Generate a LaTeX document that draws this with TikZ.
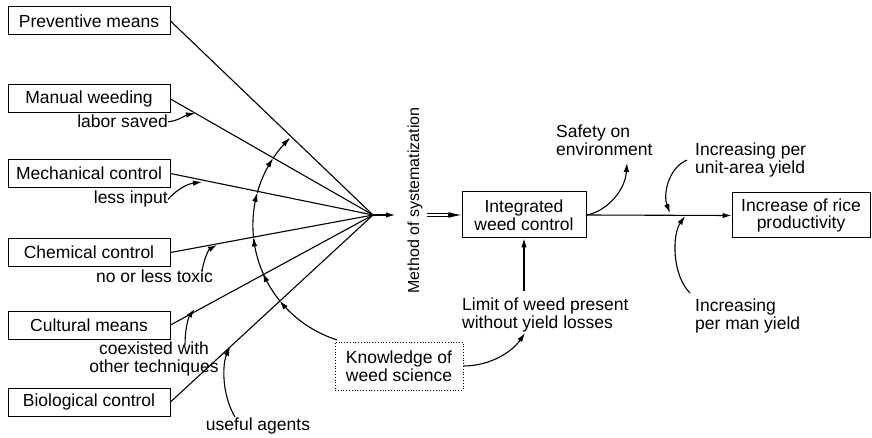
\documentclass[tikz,border=0pt]{standalone}
\usepackage{fontspec}
\setmainfont{Liberation Sans}
\usetikzlibrary{arrows.meta,calc}
\begin{document}
\begin{tikzpicture}[x=1pt,y=-1pt,
  every node/.style={font=\fontsize{17.5}{17.5}\selectfont, inner sep=0pt},
  srcbox/.style={draw, line width=1pt, minimum width=162pt, minimum height=28pt},
  conn/.style={line width=1.1pt},
  tip/.style={-{Latex[length=9pt,width=5.5pt]}}]
\useasboundingbox (0,0) rectangle (872,438);
% left boxes
\node[srcbox] (prev) at (89,21) {Preventive means};
\node[srcbox] (man) at (89,99) {Manual weeding};
\node[srcbox] (mech) at (89,173.5) {Mechanical control};
\node[srcbox] (chem) at (89,252.5) {Chemical control};
\node[srcbox] (cult) at (89,325) {Cultural means};
\node[srcbox] (bio) at (89,402) {Biological control};
% labels
\node[anchor=base east] (lab1) at (168,128) {labor saved};
\node[anchor=base east] (lab2) at (168,204) {less input};
\node[anchor=base east] (lab3) at (213,282) {no or less toxic};
\node[anchor=north, align=center] (lab4) at (154,342) {coexisted with\\other techniques};
\node[anchor=base] (lab5) at (258,430) {useful agents};
% middle and right
\node[rotate=90, font=\fontsize{16}{16}\selectfont] (meth) at (415,200.5) {Method of systematization};
\node[draw, line width=1pt, minimum width=124pt, minimum height=46pt, align=center] (int) at (524,215) {Integrated\\weed control};
\node[draw, line width=1pt, minimum width=138pt, minimum height=45pt, align=center] (inc) at (801,215.5) {Increase of rice\\productivity};
\node[draw, dotted, line width=0.8pt, minimum width=128pt, minimum height=48pt, align=center] (know) at (399,366) {Knowledge of\\weed science};
\node[anchor=north west, align=left] (safe) at (556,125) {Safety on\\environment};
\node[anchor=north west, align=left] (unit) at (695,143) {Increasing per\\unit-area yield};
\node[anchor=north west, align=left] (perman) at (695,299) {Increasing\\per man yield};
\node[anchor=north west, align=left] (limit) at (462,298) {Limit of weed present\\without yield losses};
% convergence
\coordinate (V) at (373,215);
\foreach \n in {prev,man,mech,chem,cult,bio} \draw[conn] (\n.east) -- (V);
\coordinate (Vend) at (395,215);
\draw[conn,tip] (V) -- (Vend);
% double arrow
\coordinate (dstart) at (427,215);
\draw[double, double distance=2.4pt, line width=0.6pt] (dstart) -- ($(int.west)+(-12,0)$);
\draw[conn,-{Latex[length=13pt,width=6pt]}] ($(int.west)+(-14,0)$) -- (int.west);
% main arrows
\draw[conn,tip] (int.east) -- (inc.west);
\draw[conn,tip] ($(int.south |- limit.north)+(0,-7)$) -- (int.south);
% small label arrows
\coordinate (a1) at (195,113.2);
\draw[conn,tip] (lab1.east) .. controls (178,121) and (186,115) .. (a1);
\coordinate (a2) at (202,182);
\draw[conn,tip] (lab2.east) .. controls (174,192) and (186,184) .. (a2);
\coordinate (a3) at (217,245);
\draw[conn,tip] ($(lab3.north east)+(-11,3)$) .. controls (203,262) and (208,250) .. (a3);
\coordinate (a4) at (194.5,309);
\draw[conn,tip] ($(lab4.north)+(31,3)$) .. controls (185,330) and (188,318) .. (a4);
\coordinate (a5) at (230,346.7);
\draw[conn,tip] ($(lab5.north)+(-23,0)$) .. controls (222,395) and (222,365) .. (a5);
% right arrows
\coordinate (s1) at (627,163);
\draw[conn,tip] (int.east) .. controls (605,212) and (625,192) .. (s1);
\coordinate (u1) at (670,213);
\draw[conn,tip] ($(unit.west)+(-8,0)$) .. controls (668,168) and (663,195) .. (u1);
\coordinate (m1) at (685,216);
\draw[conn,tip] ($(perman.north west)+(-5,-6)$) .. controls (672,275) and (672,235) .. (m1);
\coordinate (l1) at (525,333);
\draw[conn,tip] (know.east) .. controls (490,366) and (512,352) .. (l1);
% arc from knowledge
\foreach \a/\b in {107.6/141.0,141.0/156.5,156.5/174.1,174.1/195.5,195.5/213.6,213.6/226.2}
  \draw[conn,tip] plot[domain=\a:\b, samples=20, smooth] ({373.4+120.5*cos(\x)},{225+120.5*sin(\x)});
\end{tikzpicture}
\end{document}
